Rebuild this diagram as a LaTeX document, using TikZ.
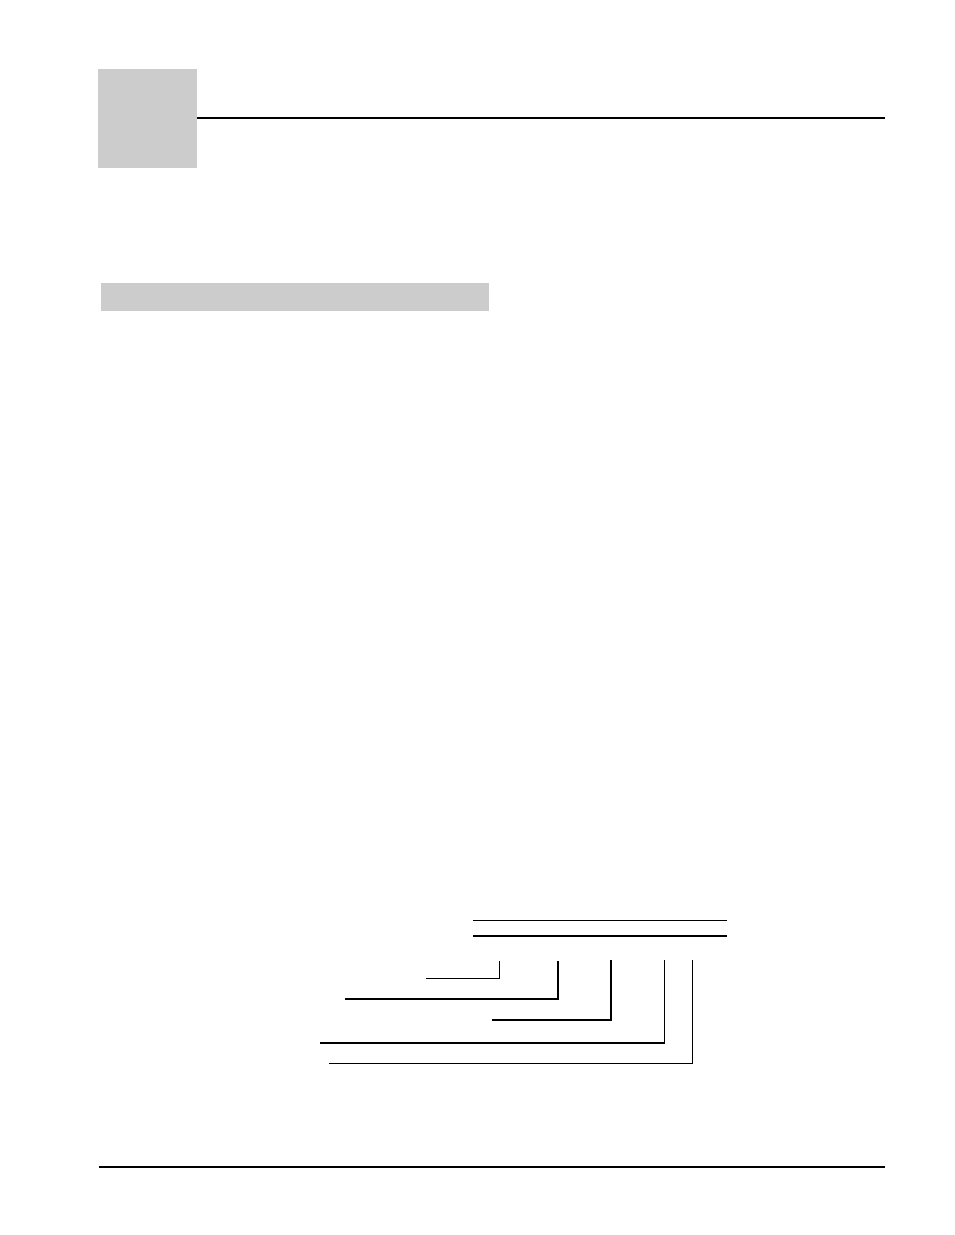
\documentclass[tikz,border=0pt]{standalone}
\usepackage{xcolor}
\definecolor{boxgray}{HTML}{CCCCCC}
\begin{document}
\begin{tikzpicture}[x=0.75pt,y=-0.75pt,
  rule/.style={draw=black,line width=1.1pt},
  leader/.style={draw=black,line width=1.1pt},
  graybox/.style={fill=boxgray,draw=none}]
\useasboundingbox (0,0) rectangle (954,1235);
% chapter tab and header rule
\fill[graybox] (98,69) rectangle (197,168);
\draw[rule] (197,118) -- (885,118);
% section bar
\fill[graybox] (101,283) rectangle (489,311);
% code structure lines
\draw[leader] (473,920.5) -- (727,920.5);
\draw[leader] (473,936) -- (727,936);
% leaders
\coordinate (v1t) at (499.5,961);   \coordinate (v1b) at (499.5,978.5); \coordinate (h1) at (426,978.5);
\coordinate (v2t) at (558,961);     \coordinate (v2b) at (558,999);     \coordinate (h2) at (345,999);
\coordinate (v3t) at (611,960);     \coordinate (v3b) at (611,1020);    \coordinate (h3) at (492,1020);
\coordinate (v4t) at (664.5,960);   \coordinate (v4b) at (664.5,1043);  \coordinate (h4) at (320,1043);
\coordinate (v5t) at (692.5,960);   \coordinate (v5b) at (692.5,1063.5);\coordinate (h5) at (329,1063.5);
\draw[leader] (v1t) -- (v1b) -- (h1);
\draw[leader] (v2t) -- (v2b) -- (h2);
\draw[leader] (v3t) -- (v3b) -- (h3);
\draw[leader] (v4t) -- (v4b) -- (h4);
\draw[leader] (v5t) -- (v5b) -- (h5);
% footer rule
\draw[rule] (99,1167) -- (885,1167);
\end{tikzpicture}
\end{document}
